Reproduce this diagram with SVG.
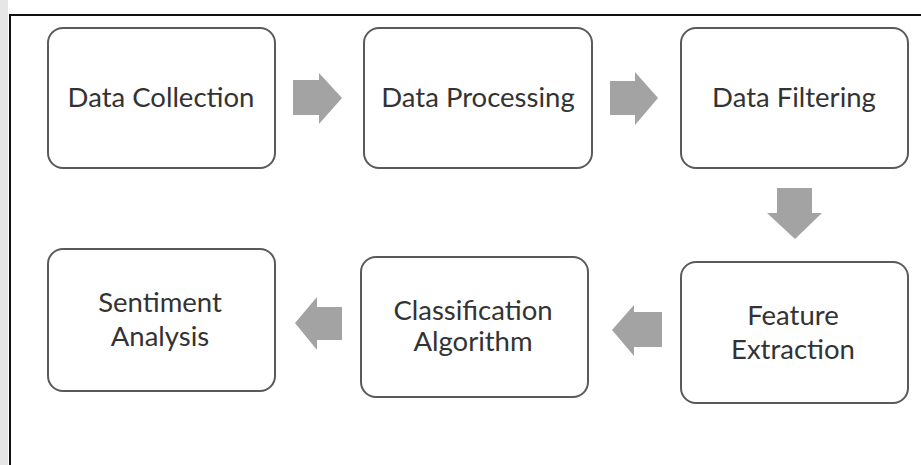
<svg xmlns="http://www.w3.org/2000/svg" width="921" height="465" viewBox="0 0 921 465">
<style>
.box{fill:#fff;stroke:#5a5a5a;stroke-width:2}
.lbl{font-family:Lato,"Open Sans",sans-serif;font-size:27.5px;fill:#333;text-anchor:middle}
.arr{fill:#a3a3a3}
</style>
<rect x="0" y="0" width="921" height="465" fill="#fff"/>
<rect x="0" y="0" width="8" height="465" fill="#e6e6e6"/>
<path d="M10 465 V15 H921" fill="none" stroke="#111" stroke-width="2"/>
<g id="n1"><rect class="box" x="48" y="28" width="227" height="140" rx="15"/><text class="lbl" x="161" y="107">Data Collection</text></g>
<g id="n2"><rect class="box" x="364" y="28" width="228" height="140" rx="15"/><text class="lbl" x="478" y="107">Data Processing</text></g>
<g id="n3"><rect class="box" x="681" y="28" width="227" height="140" rx="15"/><text class="lbl" x="794" y="107">Data Filtering</text></g>
<g id="n4"><rect class="box" x="681" y="262" width="227" height="141" rx="15"/><text class="lbl" x="793" y="325">Feature</text><text class="lbl" x="793" y="359">Extraction</text></g>
<g id="n5"><rect class="box" x="361" y="257" width="227" height="140" rx="15"/><text class="lbl" x="473" y="320">Classification</text><text class="lbl" x="473" y="351">Algorithm</text></g>
<g id="n6"><rect class="box" x="48" y="249" width="227" height="142" rx="15"/><text class="lbl" x="160" y="312">Sentiment</text><text class="lbl" x="160" y="346">Analysis</text></g>
<g id="connectors">
<polygon class="arr" points="293,80 319,80 319,73 342,98 319,124 319,115 293,115"/>
<polygon class="arr" points="610,81 635,81 635,72 658,98 635,125 635,115 610,115"/>
<polygon class="arr" points="777,188 812,188 812,213 822,213 795,239 767,213 777,213"/>
<polygon class="arr" points="662,312 634,312 634,305 612,330 634,356 634,347 662,347"/>
<polygon class="arr" points="342,307 317,307 317,297 295,323 317,350 317,340 342,340"/>
</g>
</svg>
